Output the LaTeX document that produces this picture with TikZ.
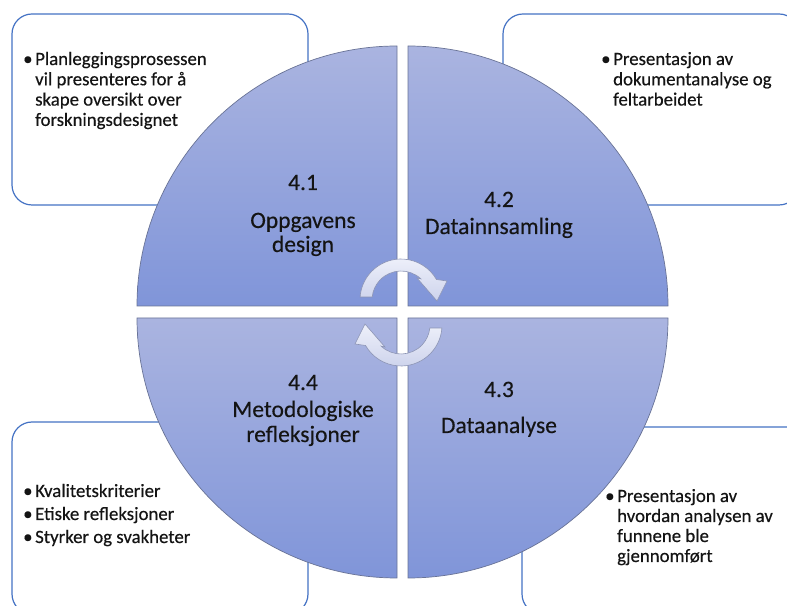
\documentclass[tikz,border=0pt]{standalone}
\usepackage{fontspec}
\setmainfont{Carlito}[FakeBold=0.35]
\definecolor{boxline}{RGB}{68,114,196}
\definecolor{segtop}{RGB}{170,180,224}
\definecolor{segbot}{RGB}{128,149,217}
\definecolor{segline}{RGB}{105,115,150}
\definecolor{arrtop}{RGB}{238,240,250}
\definecolor{arrbot}{RGB}{205,211,236}
\definecolor{arrline}{RGB}{140,148,180}
\definecolor{ink}{RGB}{20,20,20}
\begin{document}
\begin{tikzpicture}[x=1pt,y=1pt,
  infobox/.style={rectangle, draw=boxline, line width=1.2pt, fill=white,
    rounded corners=20pt, inner sep=0pt, minimum width=296pt},
  segment/.style={top color=segtop, bottom color=segbot, draw=segline, line width=0.7pt},
  cyclearrow/.style={top color=arrtop, bottom color=arrbot, draw=arrline, line width=0.6pt},
  title/.style={font=\fontsize{23.5}{26}\selectfont, text=ink, anchor=base, inner sep=0pt},
  item/.style={font=\fontsize{18.8}{20}\selectfont, text=ink, anchor=base west, inner sep=0pt},
]
\useasboundingbox (0,0) rectangle (787,605);
\clip (0,0) rectangle (787,605);

% text boxes behind the circle
\node[infobox, minimum height=191pt] (boxTL) at (160,495.5) {};
\node[infobox, minimum height=191pt] (boxTR) at (651,495.5) {};
\node[infobox, minimum height=192pt] (boxBL) at (160,87) {};
\node[infobox, minimum height=187pt] (boxBR) at (670,84.5) {};

% the four quarters of the circle
\shadedraw[segment] (397,299) -- (137,299) arc[start angle=180,end angle=90,radius=260] -- cycle;
\shadedraw[segment] (408,299) -- (408,559) arc[start angle=90,end angle=0,radius=260] -- cycle;
\shadedraw[segment] (397,287) -- (137,287) arc[start angle=180,end angle=270,radius=260] -- cycle;
\shadedraw[segment] (408,287) -- (668,287) arc[start angle=0,end angle=-90,radius=260] -- cycle;

% circular arrows in the middle
\begin{scope}[shift={(401,305)}]
  \shadedraw[cyclearrow] (-40.9,3) arc[start angle=175.8,end angle=30,radius=41]
    -- (46,19) -- (36,-1) -- (16,22) -- (19.8,21.2)
    arc[start angle=47,end angle=174,radius=29] -- cycle;
\end{scope}
\begin{scope}[shift={(401,280)}, rotate=180]
  \shadedraw[cyclearrow] (-40.9,3) arc[start angle=175.8,end angle=30,radius=41]
    -- (46,19) -- (36,-1) -- (16,22) -- (19.8,21.2)
    arc[start angle=47,end angle=174,radius=29] -- cycle;
\end{scope}

% quarter titles
\node[title] (n41) at (303,415) {4.1};
\node[title] (t41a) at (303,377) {Oppgavens};
\node[title] (t41b) at (303,353) {design};
\node[title] (n42) at (499,398) {4.2};
\node[title] (t42) at (499,371) {Datainnsamling};
\node[title] (n43) at (499,208) {4.3};
\node[title] (t43) at (499,172) {Dataanalyse};
\node[title] (n44) at (303,215) {4.4};
\node[title] (t44a) at (303,188) {Metodologiske};
\node[title] (t44b) at (303,163) {refleksjoner};

% upper left box
\node[item] (bTL) at (23,540) {•};
\node[item] (iTL1) at (35,540) {Planleggingsprosessen};
\node[item] (iTL2) at (35,519.7) {vil presenteres for å};
\node[item] (iTL3) at (35,499.4) {skape oversikt over};
\node[item] (iTL4) at (35,479.1) {forskningsdesignet};

% upper right box
\node[item] (bTR) at (601,540) {•};
\node[item] (iTR1) at (613,540) {Presentasjon av};
\node[item] (iTR2) at (613,519.7) {dokumentanalyse og};
\node[item] (iTR3) at (613,499.4) {feltarbeidet};

% lower left box
\node[item] (bBL1) at (23,108) {•};
\node[item] (iBL1) at (35,108) {Kvalitetskriterier};
\node[item] (bBL2) at (23,85) {•};
\node[item] (iBL2) at (35,85) {Etiske refleksjoner};
\node[item] (bBL3) at (23,62) {•};
\node[item] (iBL3) at (35,62) {Styrker og svakheter};

% lower right box
\node[item] (bBR) at (605,103) {•};
\node[item] (iBR1) at (617,103) {Presentasjon av};
\node[item] (iBR2) at (617,83) {hvordan analysen av};
\node[item] (iBR3) at (617,63) {funnene ble};
\node[item] (iBR4) at (617,43) {gjennomført};
\end{tikzpicture}
\end{document}
